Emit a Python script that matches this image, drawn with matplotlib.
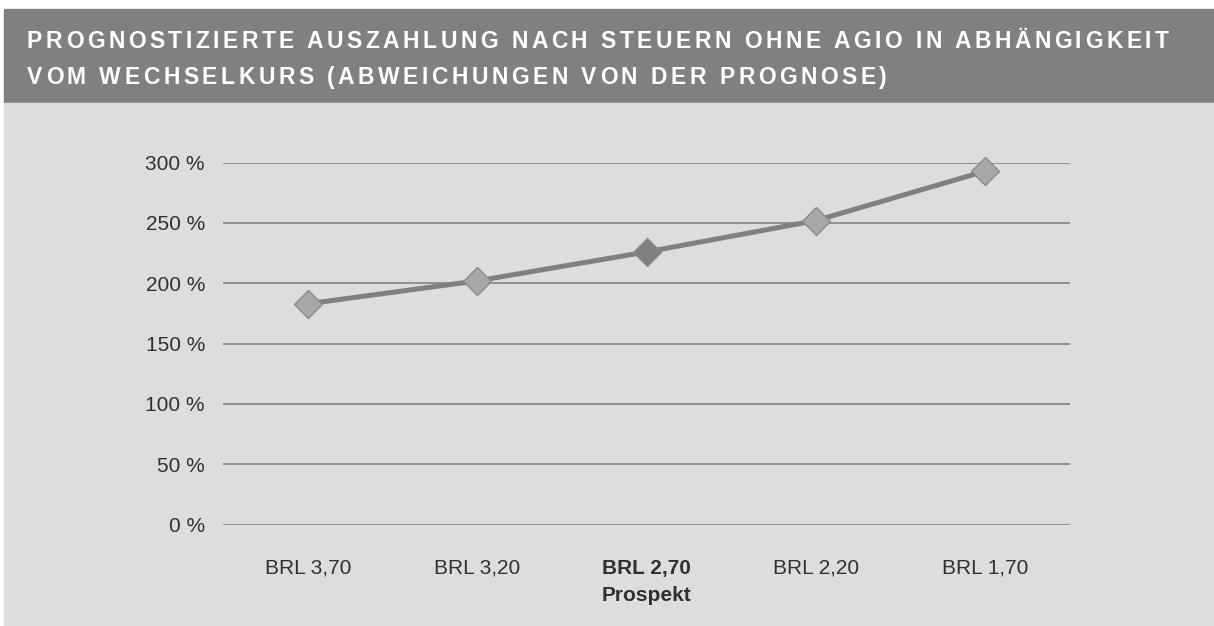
import matplotlib
matplotlib.use("Agg")
import matplotlib.pyplot as plt
from matplotlib.patches import Rectangle

# data
categories = ["BRL 3,70", "BRL 3,20", "BRL 2,70\nProspekt", "BRL 2,20", "BRL 1,70"]
values = [183, 202, 226, 252, 293]
highlight = 2  # Prospekt case
yticks = [0, 50, 100, 150, 200, 250, 300]
title_lines = ["PROGNOSTIZIERTE AUSZAHLUNG NACH STEUERN OHNE AGIO IN ABHÄNGIGKEIT",
               "VOM WECHSELKURS (ABWEICHUNGEN VON DER PROGNOSE)"]

W, H = 1214, 626
fig = plt.figure(figsize=(W / 100, H / 100), dpi=100)
fig.patch.set_facecolor("white")

# background panels (pixel coords -> figure fraction)
def px_rect(x0, y0, x1, y1, color):
    fig.patches.append(Rectangle((x0 / W, 1 - y1 / H), (x1 - x0) / W, (y1 - y0) / H,
                                 transform=fig.transFigure, color=color, zorder=-5))

px_rect(4, 9, 1214, 103, "#808083")
px_rect(4, 103, 1214, 626, "#dcdddf")

# letter-spaced title, drawn char by char
renderer = fig.canvas.get_renderer()
tfont = dict(color="white", fontsize=16.5, fontweight="bold",
             family=["Liberation Sans", "DejaVu Sans"])
track = 3.5  # px between letters
for line, base in zip(title_lines, [48, 84]):
    for k, ch in enumerate(line):
        if ch == " ":
            continue
        probe = fig.text(0, 0, line[:k + 1], **tfont)
        w = probe.get_window_extent(renderer).width
        probe.remove()
        fig.text((27 + w + k * track) / W, 1 - base / H, ch, ha="right",
                 va="baseline", **tfont)

ax = fig.add_axes([223 / W, 1 - 524.5 / H, (1070 - 223) / W, (524.5 - 162.7) / H])
ax.set_facecolor("none")
x = list(range(len(values)))
ax.plot(x, values, color="#808080", lw=3.6, zorder=3, clip_on=False)
for i, v in enumerate(values):
    face = "#7f7f81" if i == highlight else "#a8a8aa"
    ax.plot(i, v, marker="D", ms=14, mfc=face, mec="#8a8a8c", mew=1.0,
            zorder=4, clip_on=False)

ax.set_ylim(0, 300)
ax.set_xlim(-0.5, len(values) - 0.5)
ax.set_yticks(yticks)
ax.set_yticklabels([f"{t} %" for t in yticks])
ax.set_xticks(x)
ax.set_xticklabels(categories)
ax.grid(axis="y", color="#8a8a8c", lw=1.3, zorder=1)
ax.set_axisbelow(True)
for s in ax.spines.values():
    s.set_visible(False)
ax.tick_params(axis="both", length=0, colors="#303030", labelsize=15)
ax.tick_params(axis="y", pad=13)
ax.tick_params(axis="x", pad=24.5)
for lab in ax.get_yticklabels() + ax.get_xticklabels():
    lab.set_family(["Liberation Sans", "DejaVu Sans"])
    lab.set_linespacing(1.55)
ax.get_xticklabels()[highlight].set_fontweight("bold")

fig.savefig("out.png", dpi=100)
